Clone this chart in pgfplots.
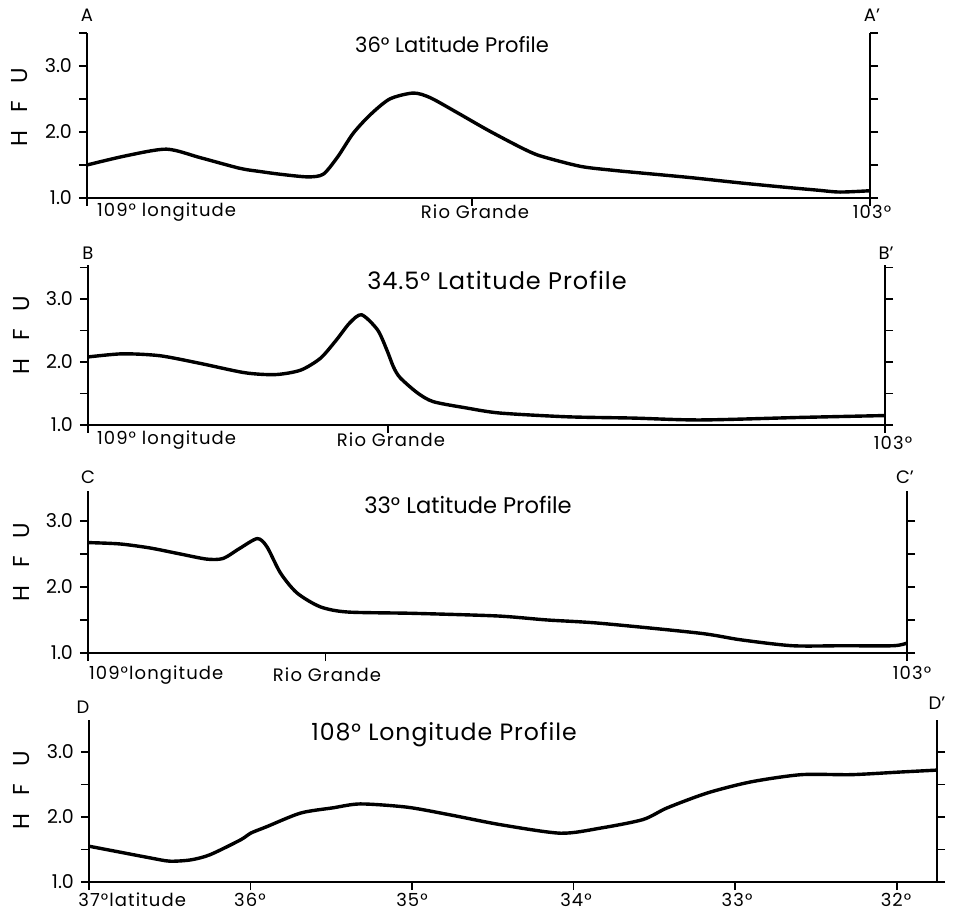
\documentclass[border=0pt]{standalone}
\usepackage{fontspec}
\setmainfont{Poppins}
\newfontfamily\spaced[LetterSpace=6]{Poppins}
\newfontfamily\wide[LetterSpace=4]{Poppins}
\usepackage{pgfplots}
\pgfplotsset{compat=1.18}

\pgfplotsset{
  prof/.style={scale only axis, anchor=south west, clip=false,
    axis y line*=left, axis x line*=bottom, x dir=reverse,
    ymin=1, ytick={1,1.5,...,3.5}, yticklabels={1.0,,2.0,,3.0,},
    xticklabels={}, tick align=outside, major tick length=4pt,
    tick style={black, line width=0.9pt}, axis line style={line width=1pt},
    yticklabel style={font=\fontsize{9.5}{9.5}\selectfont}},
  rside/.style={scale only axis, anchor=south west,
    axis y line*=right, axis x line=none, x dir=reverse,
    ymin=1, ytick={1,1.5,...,3.5}, yticklabels={},
    tick align=outside, major tick length=4pt,
    tick style={black, line width=0.9pt}, axis line style={line width=1pt}},
  curve/.style={black, no marks, line width=1.7pt, smooth, tension=0.45},
}

\begin{document}
\begin{tikzpicture}
\path[use as bounding box] (0,0) rectangle (478pt,455pt);

% A: 36 deg latitude
\begin{axis}[prof, at={(43.5pt,356pt)}, width=391.5pt, height=82.5pt,
  xmin=103, xmax=109, ymax=3.5, xtick={109,106.05,103}]
\addplot[curve] coordinates {(109.00,1.50) (108.70,1.64) (108.39,1.74) (108.13,1.61)
  (107.83,1.45) (107.67,1.40) (107.52,1.36) (107.31,1.32) (107.19,1.36)
  (107.08,1.62) (106.96,1.98) (106.83,2.26) (106.68,2.50) (106.50,2.59)
  (106.37,2.52) (106.16,2.29) (105.93,2.03) (105.68,1.77) (105.53,1.64)
  (105.22,1.48) (104.97,1.42) (104.76,1.38) (104.38,1.31) (104.00,1.23)
  (103.69,1.17) (103.41,1.12) (103.23,1.09) (103.00,1.11)};
\end{axis}
\begin{axis}[rside, at={(43.5pt,356pt)}, width=391.5pt, height=82.5pt,
  xmin=103, xmax=109, ymax=3.5]
\end{axis}

% B: 34.5 deg latitude
\begin{axis}[prof, at={(44pt,242.5pt)}, width=398.5pt, height=80pt,
  xmin=103, xmax=109, ymax=3.54, xtick={109,106.74,103}]
\addplot[curve] coordinates {(109.0,2.08) (108.74,2.13) (108.46,2.10) (108.16,1.98)
  (107.82,1.83) (107.59,1.80) (107.40,1.87) (107.25,2.06) (107.13,2.35)
  (107.03,2.62) (106.94,2.75) (106.82,2.51) (106.75,2.19) (106.70,1.92)
  (106.65,1.75) (106.52,1.51) (106.40,1.37) (106.15,1.27) (105.90,1.19)
  (105.39,1.13) (104.90,1.11) (104.39,1.08) (103.64,1.12) (103.0,1.15)};
\end{axis}
\begin{axis}[rside, at={(44pt,242.5pt)}, width=398.5pt, height=80pt,
  xmin=103, xmax=109, ymax=3.54]
\end{axis}

% C: 33 deg latitude
\begin{axis}[prof, at={(44pt,128.5pt)}, width=409.5pt, height=81pt,
  xmin=103, xmax=109, ymax=3.45, xtick={109,107.26,103}]
\addplot[curve] coordinates {(109.0,2.67) (108.77,2.65) (108.55,2.59) (108.33,2.50)
  (108.13,2.42) (108.01,2.43) (107.89,2.58) (107.76,2.73) (107.69,2.61)
  (107.59,2.21) (107.47,1.91) (107.30,1.70) (107.10,1.62) (106.62,1.60)
  (106.00,1.56) (105.64,1.50) (105.25,1.45) (104.52,1.30) (104.22,1.20)
  (103.84,1.11) (103.47,1.11) (103.10,1.11) (103.0,1.15)};
\end{axis}
\begin{axis}[rside, at={(44pt,128.5pt)}, width=409.5pt, height=81pt,
  xmin=103, xmax=109, ymax=3.45]
\end{axis}

% D: 108 deg longitude
\begin{axis}[prof, at={(44.5pt,14pt)}, width=424pt, height=81pt,
  xmin=31.75, xmax=37, ymax=3.49, xtick={37,36,35,34,33,32}]
\addplot[curve] coordinates {(37.0,1.55) (36.81,1.46) (36.62,1.37) (36.50,1.32)
  (36.37,1.34) (36.25,1.42) (36.06,1.65) (36.0,1.75) (35.90,1.85)
  (35.69,2.06) (35.49,2.14) (35.32,2.20) (35.03,2.15) (34.76,2.03)
  (34.45,1.88) (34.08,1.75) (33.83,1.83) (33.57,1.96) (33.42,2.14)
  (33.17,2.37) (32.90,2.54) (32.59,2.65) (32.28,2.65) (31.98,2.69)
  (31.75,2.72)};
\end{axis}
\begin{axis}[rside, at={(44.5pt,14pt)}, width=424pt, height=81pt,
  xmin=31.75, xmax=37, ymax=3.49]
\end{axis}

% section letters
\begin{scope}[every node/.style={font=\fontsize{9}{9}\selectfont}]
\node at (43.5pt,447.5pt) {A};  \node at (436pt,447.5pt) {A'};
\node at (44pt,328.5pt) {B};    \node at (443pt,328.5pt) {B'};
\node at (44pt,216.5pt) {C};    \node at (452.5pt,216.5pt) {C'};
\node at (41.5pt,101.5pt) {D};  \node at (468.5pt,103.5pt) {D'};
\end{scope}

% titles
\node[font=\fontsize{10.5}{10.5}\selectfont] at (226pt,432.5pt) {36° Latitude Profile};
\node[font=\wide\fontsize{12}{12}\selectfont] at (248.5pt,315pt) {34.5° Latitude Profile};
\node[font=\fontsize{11.3}{11.3}\selectfont] at (234pt,202.5pt) {33° Latitude Profile};
\node[font=\wide\fontsize{11.8}{11.8}\selectfont] at (222pt,87.5pt) {108° Longitude Profile};

% vertical unit labels
\begin{scope}[every node/.style={font=\fontsize{11.5}{11.5}\selectfont, rotate=90}]
\node at (10pt,401.5pt) {H\hskip9pt F\hskip9pt U};
\node at (11pt,287.5pt) {H\hskip9pt F\hskip9pt U};
\node at (11pt,174pt) {H\hskip9pt F\hskip9pt U};
\node at (11pt,60pt) {H\hskip9pt F\hskip9pt U};
\end{scope}

% place labels under the profiles
\begin{scope}[every node/.style={font=\spaced\fontsize{9}{9}\selectfont}]
\node[anchor=west] at (45pt,349pt) {109° longitude};
\node at (237.5pt,349pt) {Rio Grande};
\node at (436pt,349pt) {103°};
\node[anchor=west] at (45pt,235pt) {109° longitude};
\node at (195.5pt,235pt) {Rio Grande};
\node at (446.5pt,233.5pt) {103°};
\node[anchor=west] at (41pt,117.5pt) {109°longitude};
\node at (163.5pt,117.5pt) {Rio Grande};
\node at (456pt,118.5pt) {103°};
\end{scope}
\begin{scope}[every node/.style={font=\spaced\fontsize{9}{9}\selectfont, anchor=base, inner sep=0pt}]
\node[anchor=base west] at (39pt,1.8pt) {37°latitude};
\node at (125pt,1.8pt) {36°};
\node at (206pt,1.8pt) {35°};
\node at (288pt,1.8pt) {34°};
\node at (368.5pt,1.8pt) {33°};
\node at (448pt,1.8pt) {32°};
\end{scope}
\end{tikzpicture}
\end{document}
